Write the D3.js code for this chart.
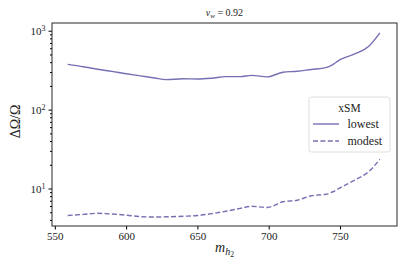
<!DOCTYPE html>
<html>
<head>
<meta charset="utf-8">
<script src="https://cdn.jsdelivr.net/npm/d3@7"></script>
<style>
  body { margin: 0; background: #fff; }
  text { font-family: "Liberation Serif", "DejaVu Serif", serif; }
</style>
</head>
<body>
<svg width="407" height="271"></svg>
<script>
// m_h2 sample points
const massX = [559, 570, 580, 590, 600, 610, 620, 628, 640, 650, 660, 670, 680, 688, 699, 710, 720, 730, 740, 745, 750, 760, 770, 778];
// xSM lowest
const lowest = [375, 350, 325, 305, 285, 268, 252, 240, 246, 244, 250, 262, 262, 272, 260, 298, 306, 323, 340, 372, 430, 505, 630, 940];
// xSM modest
const modest = [4.55, 4.7, 4.85, 4.75, 4.6, 4.4, 4.35, 4.38, 4.45, 4.55, 4.8, 5.15, 5.6, 5.95, 5.75, 6.8, 7.1, 8.1, 8.45, 9.1, 10.2, 12.7, 16.3, 23.5];
const xTicks = [550, 600, 650, 700, 750];
const yMajor = [10, 100, 1000];
const seriesNames = ["lowest", "modest"];

const lineColor = "#7570b3";
const margin = {top: 23, right: 10, bottom: 45, left: 52};
const width = 407, height = 271;
const innerW = width - margin.left - margin.right;
const innerH = height - margin.top - margin.bottom;

const svg = d3.select("svg");
const g = svg.append("g").attr("transform", `translate(${margin.left},${margin.top})`);

const x = d3.scaleLinear().domain([548, 790]).range([0, innerW]);
const y = d3.scaleLog().domain([3.35, 1253]).range([innerH, 0]);

// minor ticks on log axis
const yMinor = [];
[1, 10, 100].forEach(dec => {
  for (let k = 2; k <= 9; k++) {
    const v = dec * k;
    if (v >= y.domain()[0] && v <= y.domain()[1]) yMinor.push(v);
  }
});

// x axis
const xAxis = g.append("g")
  .attr("transform", `translate(0,${innerH})`)
  .call(d3.axisBottom(x).tickValues(xTicks).tickSize(3.5).tickPadding(3));
xAxis.select(".domain").remove();
xAxis.selectAll("text").attr("font-size", "11px").attr("fill", "#222");

// y axis minor
const yMin = g.append("g")
  .call(d3.axisLeft(y).tickValues(yMinor).tickSize(2).tickFormat(""));
yMin.select(".domain").remove();

// y axis major
const yAxis = g.append("g")
  .call(d3.axisLeft(y).tickValues(yMajor).tickSize(3.5).tickPadding(3).tickFormat(""));
yAxis.select(".domain").remove();
yAxis.selectAll(".tick text")
  .attr("font-size", "11px")
  .attr("fill", "#222")
  .each(function(d) {
    const t = d3.select(this);
    t.append("tspan").text("10");
    t.append("tspan").attr("dy", "-0.45em").attr("font-size", "8px").text(Math.round(Math.log10(d)));
  });

// frame
g.append("rect")
  .attr("width", innerW).attr("height", innerH)
  .attr("fill", "none").attr("stroke", "#111").attr("stroke-width", 0.9);

// lines
const line = d3.line()
  .x(d => x(d[0]))
  .y(d => y(d[1]))
  .curve(d3.curveMonotoneX);

g.append("path")
  .datum(massX.map((m, i) => [m, lowest[i]]))
  .attr("fill", "none").attr("stroke", lineColor).attr("stroke-width", 1.4)
  .attr("d", line);

g.append("path")
  .datum(massX.map((m, i) => [m, modest[i]]))
  .attr("fill", "none").attr("stroke", lineColor).attr("stroke-width", 1.4)
  .attr("stroke-dasharray", "5,2.4")
  .attr("d", line);

// legend
const leg = svg.append("g").attr("transform", "translate(309,97)");
leg.append("rect")
  .attr("width", 81).attr("height", 55).attr("rx", 2.5)
  .attr("fill", "#fff").attr("fill-opacity", 0.8)
  .attr("stroke", "#d5d5d5").attr("stroke-width", 0.8);
leg.append("text")
  .attr("x", 40.5).attr("y", 15).attr("text-anchor", "middle")
  .attr("font-size", "11.5px").attr("fill", "#222").text("xSM");
seriesNames.forEach((name, i) => {
  const yy = 27 + i * 17;
  leg.append("line")
    .attr("x1", 4).attr("x2", 30).attr("y1", yy).attr("y2", yy)
    .attr("stroke", lineColor).attr("stroke-width", 1.4)
    .attr("stroke-dasharray", i === 1 ? "5,2.4" : null);
  leg.append("text")
    .attr("x", 38.5).attr("y", yy + 3.5)
    .attr("font-size", "12px").attr("fill", "#222").text(name);
});

// title
const title = svg.append("text")
  .attr("x", margin.left + innerW / 2).attr("y", 16)
  .attr("text-anchor", "middle").attr("font-size", "10px").attr("fill", "#222");
title.append("tspan").attr("font-style", "italic").text("v");
title.append("tspan").attr("font-style", "italic").attr("font-size", "7px").attr("dy", "2").text("w");
title.append("tspan").attr("dy", "-2").text(" = 0.92");

// x label
const xl = svg.append("text")
  .attr("x", margin.left + innerW / 2).attr("y", 252)
  .attr("text-anchor", "middle").attr("font-size", "14px").attr("fill", "#222");
xl.append("tspan").attr("font-style", "italic").text("m");
xl.append("tspan").attr("font-style", "italic").attr("font-size", "10px").attr("dy", "3").text("h");
xl.append("tspan").attr("font-size", "7.5px").attr("dy", "2").text("2");

// y label
svg.append("text")
  .attr("transform", `translate(20,${margin.top + innerH / 2 - 3}) rotate(-90)`)
  .attr("text-anchor", "middle").attr("font-size", "14px").attr("fill", "#222")
  .text("ΔΩ/Ω");
</script>
</body>
</html>
